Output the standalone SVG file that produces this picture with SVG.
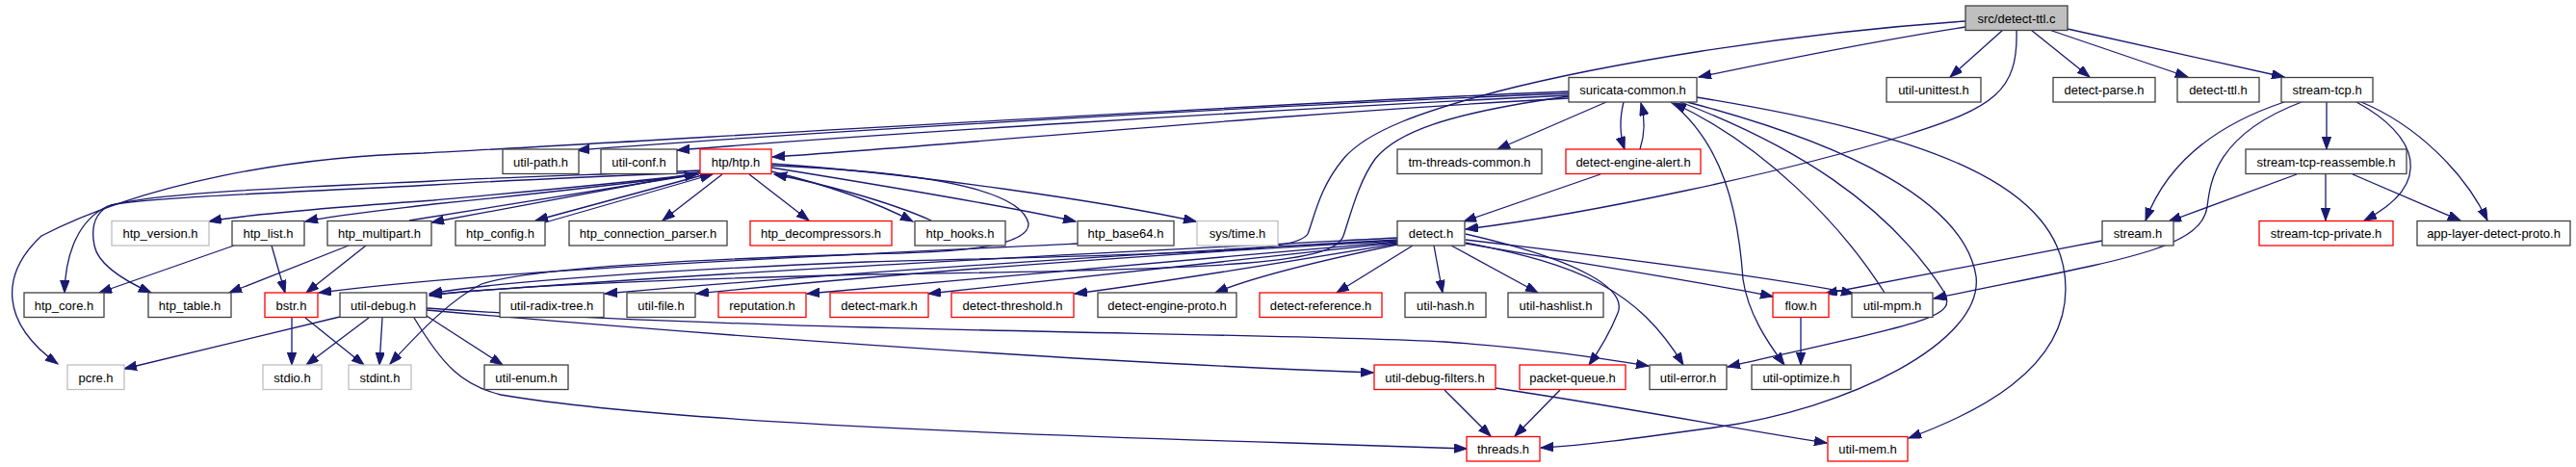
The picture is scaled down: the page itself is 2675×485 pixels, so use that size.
<svg xmlns="http://www.w3.org/2000/svg" width="2675" height="485" viewBox="0 0 2675 485">
<style>
.n rect{fill:#fff;stroke:#404040;stroke-width:1.3}
.r rect{stroke:#ff0000}
.g rect{stroke:#bfbfbf}
.root rect{fill:#bfbfbf}
text{font-family:"Liberation Sans",Arial,sans-serif;font-size:13px;text-anchor:middle;fill:#000}
#edges path{fill:none;stroke:#191970;stroke-width:1.3;marker-end:url(#a)}
</style>
<defs>
<marker id="a" markerWidth="14" markerHeight="10" refX="13" refY="4.7" orient="auto" markerUnits="userSpaceOnUse"><path d="M0,0 L13,4.7 L0,9.4 z" fill="#191970" stroke="#191970" stroke-width="1"/></marker>
</defs>
<rect width="2675" height="485" fill="#fff"/>
<g id="edges">
<path d="M2041,28 C1950,42 1860,60 1764,80"/>
<path d="M2080,31 L2025,80"/>
<path d="M2109,31 L2170,80"/>
<path d="M2128,31 L2272,80"/>
<path d="M2147,30 L2372,80"/>
<path d="M2094,31 C2096,95 2070,112 1980,140 C1850,180 1650,222 1522,238"/>
<path d="M2041,22 C1850,35 1660,68 1555,95 C1480,115 1420,135 1395,165 C1370,195 1365,225 1358,243 C1345,262 1250,263 900,272 C700,280 520,292 446,305"/>
<path d="M1629,100 C1500,118 1450,138 1428,165 C1410,190 1402,225 1395,245 C1385,272 1300,280 900,285 C700,290 520,297 446,307"/>
<path d="M1629,95 C1300,108 700,145 440,159 C300,163 150,190 43,245 C0,285 0,335 60,378"/>
<path d="M1629,97 C1300,110 800,140 599,156"/>
<path d="M1629,99 C1300,115 900,140 703,156"/>
<path d="M1629,102 C1300,120 1000,150 802,163"/>
<path d="M1668,106 L1555,155"/>
<path d="M1686,106 C1682,122 1682,140 1687,155"/>
<path d="M1703,155 C1708,140 1708,122 1704,107"/>
<path d="M1762,101 C2000,140 2145,190 2145,300 C2145,385 2050,430 1982,455"/>
<path d="M1752,106 C1920,150 2040,210 2052,287 C2060,355 1920,425 1780,444 C1700,455 1650,462 1600,465"/>
<path d="M1745,106 C1860,150 1960,210 2020,305 C2030,330 2005,333 1794,381"/>
<path d="M1957,304 C1910,230 1830,150 1738,107"/>
<path d="M1735,106 C1790,150 1805,220 1810,290 C1815,325 1835,355 1853,379"/>
<path d="M1662,181 L1520,230"/>
<path d="M724,181 C600,195 500,203 450,208 C350,215 260,222 217,230"/>
<path d="M726,181 C600,197 500,207 450,212 C400,218 350,223 317,230"/>
<path d="M727,179 L448,231"/>
<path d="M425,229 L724,181"/>
<path d="M733,181 L556,229"/>
<path d="M566,231 L740,181"/>
<path d="M728,177 C600,182 500,185 450,188 C300,195 160,200 112,214 C82,228 68,262 67,304"/>
<path d="M728,179 C600,184 500,189 450,192 C300,200 150,205 115,213 C95,222 95,240 98,255 C102,275 130,292 157,304"/>
<path d="M750,181 L688,229"/>
<path d="M778,181 L840,229"/>
<path d="M801,178 C850,190 900,205 948,230"/>
<path d="M967,229 C920,208 850,190 804,181"/>
<path d="M801,174 C900,190 1050,215 1117,230"/>
<path d="M801,170 C950,180 1150,210 1242,230"/>
<path d="M801,172 C950,178 1060,195 1068,232 C1070,262 950,263 895,264 C700,270 545,280 500,295 C470,310 440,340 405,378"/>
<path d="M1119,253 C800,268 500,282 331,304"/>
<path d="M243,255 L103,304"/>
<path d="M282,255 L296,304"/>
<path d="M362,255 L238,304"/>
<path d="M380,255 L318,304"/>
<path d="M303,330 L303,379"/>
<path d="M317,330 L378,379"/>
<path d="M383,330 L318,379"/>
<path d="M397,330 L394,379"/>
<path d="M353,329 L129,383"/>
<path d="M443,328 L522,379"/>
<path d="M430,330 C460,380 480,400 520,410 C650,432 900,447 1340,460 C1400,462 1460,464 1523,466"/>
<path d="M443,322 C700,345 1100,375 1426,387"/>
<path d="M443,320 C800,345 1300,345 1500,355 C1600,362 1660,372 1712,380"/>
<path d="M1500,405 L1548,453"/>
<path d="M1553,403 C1700,425 1800,445 1897,460"/>
<path d="M1620,405 L1573,453"/>
<path d="M1522,243 C1640,270 1690,300 1680,325 C1670,350 1660,365 1650,379"/>
<path d="M1522,252 C1640,275 1700,300 1748,379"/>
<path d="M1489,255 L1498,304"/>
<path d="M1507,255 L1597,304"/>
<path d="M1467,255 L1388,304"/>
<path d="M1522,249 C1700,270 1850,290 1925,305"/>
<path d="M1522,253 C1650,275 1780,295 1841,308"/>
<path d="M2183,250 L1895,305"/>
<path d="M2390,106 C2300,140 2295,190 2292,215 C2285,260 2200,270 2008,310"/>
<path d="M2372,106 C2300,130 2250,170 2228,229"/>
<path d="M2416,106 L2416,155"/>
<path d="M2447,106 C2510,140 2530,190 2455,229"/>
<path d="M2452,106 C2510,130 2560,180 2583,229"/>
<path d="M2385,181 L2252,230"/>
<path d="M2415,181 L2415,229"/>
<path d="M2443,181 L2555,229"/>
<path d="M1870,330 L1870,379"/>
<path d="M1451,247 C1100,265 700,285 446,306"/>
<path d="M1451,249 C1100,268 800,290 628,305"/>
<path d="M1451,250 C1100,270 850,292 723,305"/>
<path d="M1451,251 C1200,272 950,295 838,305"/>
<path d="M1451,252 C1250,275 1050,296 964,305"/>
<path d="M1451,253 C1300,278 1170,298 1116,305"/>
<path d="M1451,254 C1350,275 1290,292 1262,304"/>
</g>
<g id="node-src-detect-ttl-c" class="n root"><rect x="2041" y="6" width="106" height="25.5"/><text x="2094" y="23.5">src/detect-ttl.c</text></g>
<g id="node-suricata-common" class="n"><rect x="1629" y="80.5" width="133" height="25.5"/><text x="1695.5" y="98">suricata-common.h</text></g>
<g id="node-util-unittest" class="n"><rect x="1959" y="80.5" width="98" height="25.5"/><text x="2008" y="98">util-unittest.h</text></g>
<g id="node-detect-parse" class="n"><rect x="2132" y="80.5" width="106" height="25.5"/><text x="2185" y="98">detect-parse.h</text></g>
<g id="node-detect-ttl-h" class="n"><rect x="2261" y="80.5" width="85" height="25.5"/><text x="2303.5" y="98">detect-ttl.h</text></g>
<g id="node-stream-tcp" class="n"><rect x="2369" y="80.5" width="95" height="25.5"/><text x="2416.5" y="98">stream-tcp.h</text></g>
<g id="node-util-path" class="n"><rect x="522" y="155" width="79" height="25.5"/><text x="561.5" y="172.5">util-path.h</text></g>
<g id="node-util-conf" class="n"><rect x="624" y="155" width="79" height="25.5"/><text x="663.5" y="172.5">util-conf.h</text></g>
<g id="node-htp-htp" class="n r"><rect x="727" y="155" width="74" height="25.5"/><text x="764" y="172.5">htp/htp.h</text></g>
<g id="node-tm-threads-common" class="n"><rect x="1451" y="155" width="150" height="25.5"/><text x="1526" y="172.5">tm-threads-common.h</text></g>
<g id="node-detect-engine-alert" class="n r"><rect x="1626" y="155" width="140" height="25.5"/><text x="1696" y="172.5">detect-engine-alert.h</text></g>
<g id="node-stream-tcp-reassemble" class="n"><rect x="2332" y="155" width="167" height="25.5"/><text x="2415.5" y="172.5">stream-tcp-reassemble.h</text></g>
<g id="node-htp-version" class="n g"><rect x="116" y="229.5" width="101" height="25.5"/><text x="166.5" y="247">htp_version.h</text></g>
<g id="node-htp-list" class="n"><rect x="241" y="229.5" width="75" height="25.5"/><text x="278.5" y="247">htp_list.h</text></g>
<g id="node-htp-multipart" class="n"><rect x="340" y="229.5" width="108" height="25.5"/><text x="394" y="247">htp_multipart.h</text></g>
<g id="node-htp-config" class="n"><rect x="473" y="229.5" width="93" height="25.5"/><text x="519.5" y="247">htp_config.h</text></g>
<g id="node-htp-connection-parser" class="n"><rect x="591" y="229.5" width="164" height="25.5"/><text x="673" y="247">htp_connection_parser.h</text></g>
<g id="node-htp-decompressors" class="n r"><rect x="779" y="229.5" width="147" height="25.5"/><text x="852.5" y="247">htp_decompressors.h</text></g>
<g id="node-htp-hooks" class="n"><rect x="950" y="229.5" width="94" height="25.5"/><text x="997" y="247">htp_hooks.h</text></g>
<g id="node-htp-base64" class="n"><rect x="1119" y="229.5" width="100" height="25.5"/><text x="1169" y="247">htp_base64.h</text></g>
<g id="node-sys-time" class="n g"><rect x="1243" y="229.5" width="84" height="25.5"/><text x="1285" y="247">sys/time.h</text></g>
<g id="node-detect-h" class="n"><rect x="1451" y="229.5" width="70" height="25.5"/><text x="1486" y="247">detect.h</text></g>
<g id="node-stream-h" class="n"><rect x="2183" y="229.5" width="74" height="25.5"/><text x="2220" y="247">stream.h</text></g>
<g id="node-stream-tcp-private" class="n r"><rect x="2346" y="229.5" width="139" height="25.5"/><text x="2415.5" y="247">stream-tcp-private.h</text></g>
<g id="node-app-layer-detect-proto" class="n"><rect x="2510" y="229.5" width="159" height="25.5"/><text x="2589.5" y="247">app-layer-detect-proto.h</text></g>
<g id="node-htp-core" class="n"><rect x="25" y="304" width="83" height="25.5"/><text x="66.5" y="321.5">htp_core.h</text></g>
<g id="node-htp-table" class="n"><rect x="154" y="304" width="86" height="25.5"/><text x="197" y="321.5">htp_table.h</text></g>
<g id="node-bstr" class="n r"><rect x="275" y="304" width="55" height="25.5"/><text x="302.5" y="321.5">bstr.h</text></g>
<g id="node-util-debug" class="n"><rect x="353" y="304" width="90" height="25.5"/><text x="398" y="321.5">util-debug.h</text></g>
<g id="node-util-radix-tree" class="n"><rect x="519" y="304" width="108" height="25.5"/><text x="573" y="321.5">util-radix-tree.h</text></g>
<g id="node-util-file" class="n"><rect x="651" y="304" width="71" height="25.5"/><text x="686.5" y="321.5">util-file.h</text></g>
<g id="node-reputation" class="n r"><rect x="746" y="304" width="91" height="25.5"/><text x="791.5" y="321.5">reputation.h</text></g>
<g id="node-detect-mark" class="n r"><rect x="862" y="304" width="102" height="25.5"/><text x="913" y="321.5">detect-mark.h</text></g>
<g id="node-detect-threshold" class="n r"><rect x="988" y="304" width="127" height="25.5"/><text x="1051.5" y="321.5">detect-threshold.h</text></g>
<g id="node-detect-engine-proto" class="n"><rect x="1140" y="304" width="144" height="25.5"/><text x="1212" y="321.5">detect-engine-proto.h</text></g>
<g id="node-detect-reference" class="n r"><rect x="1308" y="304" width="127" height="25.5"/><text x="1371.5" y="321.5">detect-reference.h</text></g>
<g id="node-util-hash" class="n"><rect x="1459" y="304" width="84" height="25.5"/><text x="1501" y="321.5">util-hash.h</text></g>
<g id="node-util-hashlist" class="n"><rect x="1566" y="304" width="99" height="25.5"/><text x="1615.5" y="321.5">util-hashlist.h</text></g>
<g id="node-flow" class="n r"><rect x="1841" y="304" width="58" height="25.5"/><text x="1870" y="321.5">flow.h</text></g>
<g id="node-util-mpm" class="n"><rect x="1923" y="304" width="84" height="25.5"/><text x="1965" y="321.5">util-mpm.h</text></g>
<g id="node-pcre" class="n g"><rect x="70" y="379" width="59" height="25.5"/><text x="99.5" y="396.5">pcre.h</text></g>
<g id="node-stdio" class="n g"><rect x="273" y="379" width="61" height="25.5"/><text x="303.5" y="396.5">stdio.h</text></g>
<g id="node-stdint" class="n g"><rect x="362" y="379" width="65" height="25.5"/><text x="394.5" y="396.5">stdint.h</text></g>
<g id="node-util-enum" class="n"><rect x="503" y="379" width="87" height="25.5"/><text x="546.5" y="396.5">util-enum.h</text></g>
<g id="node-util-debug-filters" class="n r"><rect x="1427" y="379" width="126" height="25.5"/><text x="1490" y="396.5">util-debug-filters.h</text></g>
<g id="node-packet-queue" class="n r"><rect x="1578" y="379" width="110" height="25.5"/><text x="1633" y="396.5">packet-queue.h</text></g>
<g id="node-util-error" class="n"><rect x="1713" y="379" width="80" height="25.5"/><text x="1753" y="396.5">util-error.h</text></g>
<g id="node-util-optimize" class="n"><rect x="1819" y="379" width="103" height="25.5"/><text x="1870.5" y="396.5">util-optimize.h</text></g>
<g id="node-threads" class="n r"><rect x="1523" y="453.5" width="76" height="25.5"/><text x="1561" y="471">threads.h</text></g>
<g id="node-util-mem" class="n r"><rect x="1898" y="453.5" width="83" height="25.5"/><text x="1939.5" y="471">util-mem.h</text></g>
</svg>
